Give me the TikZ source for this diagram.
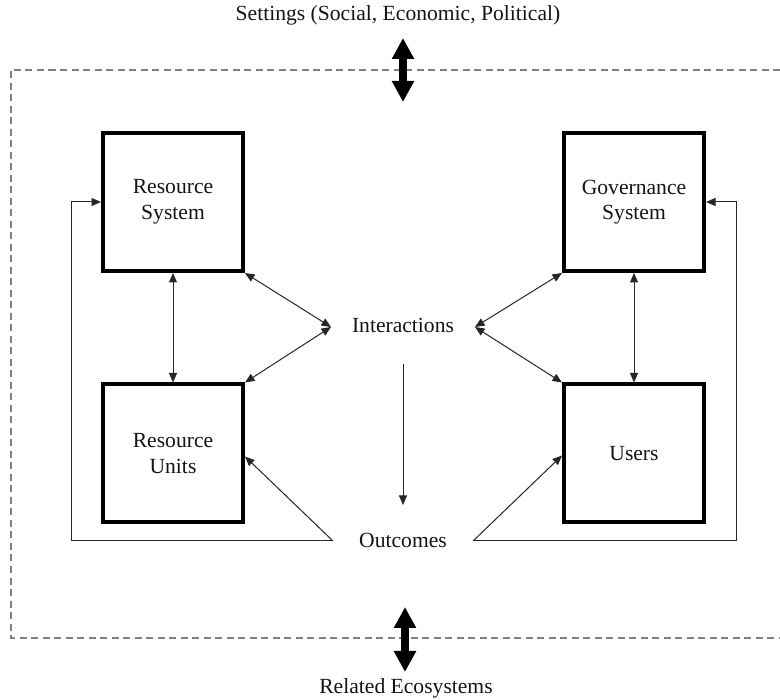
\documentclass[tikz,border=0pt]{standalone}
\usepackage{fontspec}
\setmainfont{Liberation Serif}
\usetikzlibrary{arrows.meta,calc}
\begin{document}
\begin{tikzpicture}[x=1pt,y=-1pt,
  every node/.style={font=\fontsize{21.6}{25.5}\selectfont, text=black!92},
  sysbox/.style={draw, line width=4pt, minimum width=140pt, minimum height=138pt,
                 inner sep=0pt, align=center},
  plain text/.style={inner sep=0pt, anchor=base},
  link/.style={line width=1pt, draw=black!85},
  >={Triangle[length=9.5pt,width=8pt]},
  frame/.style={draw=black!50, line width=1.4pt, dash pattern=on 7pt off 4.5pt},
  bigarrow/.style={line width=8pt,
                   {Triangle[length=21pt,width=21pt]}-{Triangle[length=21pt,width=21pt]}}
]
\useasboundingbox (0,0) rectangle (780,700);

% outer boundary of the focal system
\draw[frame] (780,70) -- (11,70) -- (11,638) -- (780,638);

% the four core subsystems
\node[sysbox] (rs) at (173,202)   {Resource\\System};
\node[sysbox] (ru) at (173,453.5) {Resource\\Units};
\node[sysbox] (gs) at (634,202)   {Governance\\System};
\node[sysbox] (us) at (634,453.5) {Users};

% central and external labels
\node[plain text] (inter)    at (403,333) {Interactions};
\node[plain text] (out)      at (403,548) {Outcomes};
\node[plain text] (settings) at (398,21)  {Settings (Social, Economic, Political)};
\node[plain text] (related)  at (406,693) {Related Ecosystems};

% junction points beside the central labels
\coordinate (iL) at (331,327);
\coordinate (iR) at (475,327);
\coordinate (oL) at (333,541);
\coordinate (oR) at (473,541);

% links between subsystems
\draw[link,<->] (rs) -- (ru);
\draw[link,<->] (gs) -- (us);

% links into interactions
\draw[link,<->] (rs.south east) -- (iL);
\draw[link,<->] (ru.north east) -- (iL);
\draw[link,<->] (gs.south west) -- (iR);
\draw[link,<->] (us.north west) -- (iR);

% interactions lead to outcomes
\draw[link,->] ($(inter.base)+(0,31)$) -- ($(out.base)+(0,-43)$);

% feedback from outcomes
\draw[link,->] (oL) -- ($(ru.east)+(0,3)$);
\draw[link,->] (oL) -| ($(rs.west)+(-30,0)$) -- (rs.west);
\draw[link,->] (oR) -- ($(us.west)+(0,2)$);
\draw[link,->] (oR) -| ($(gs.east)+(30,0)$) -- (gs.east);

% exchanges across the boundary
\coordinate (topA) at (403,38);
\coordinate (topB) at (403,102);
\coordinate (botA) at (405,607);
\coordinate (botB) at (405,672);
\draw[bigarrow] (topA) -- (topB);
\draw[bigarrow] (botA) -- (botB);
\end{tikzpicture}
\end{document}
